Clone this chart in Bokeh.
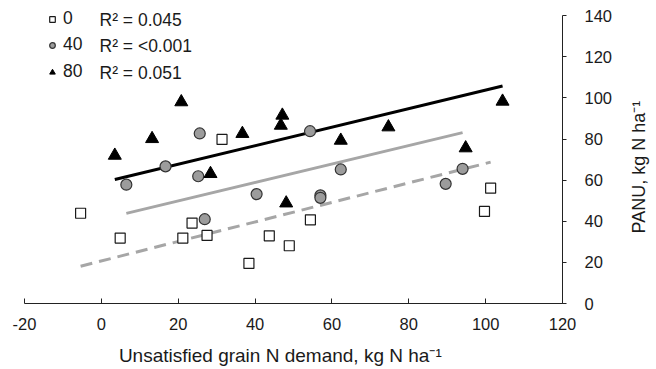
import numpy as np
from bokeh.plotting import figure
from bokeh.models import Range1d, FixedTicker, Legend, LegendItem, Label
from bokeh.embed import file_html
from bokeh.resources import INLINE

# ---- data ----
x_n0 = [-5.4, 4.9, 21.2, 23.6, 27.5, 31.4, 38.4, 43.7, 48.9, 54.4, 101.3, 99.7]
y_n0 = [43.9, 31.8, 31.8, 39.1, 33.1, 79.8, 19.5, 32.9, 28.1, 40.7, 56.1, 44.8]
x_n40 = [6.5, 16.7, 25.6, 25.2, 26.9, 40.4, 54.3, 57.0, 57.0, 62.3, 89.6, 94.0]
y_n40 = [57.8, 66.7, 82.7, 61.9, 41.0, 53.2, 83.8, 52.6, 51.4, 65.2, 58.2, 65.5]
x_n80 = [3.5, 13.2, 20.8, 28.4, 36.7, 47.1, 46.7, 48.1, 62.3, 74.7, 94.8, 104.4]
y_n80 = [72.0, 80.1, 98.0, 63.1, 82.6, 91.5, 86.6, 48.8, 79.3, 85.8, 75.6, 98.3]

series_names = ["0", "40", "80"]
fit_slope = [0.4745, 0.449, 0.451]
fit_intercept = [20.7, 40.9, 58.7]
r2_labels = ["R\u00b2 = 0.045", "R\u00b2 = <0.001", "R\u00b2 = 0.051"]

x_ticks = [-20, 0, 20, 40, 60, 80, 100, 120]
y_ticks = [0, 20, 40, 60, 80, 100, 120, 140]
x_title = "Unsatisfied grain N demand, kg N ha\u207b\u00b9"
y_title = "PANU, kg N ha\u207b\u00b9"

FONT = "Liberation Sans"
TXT = "#1a1a1a"
NBSP = "\u00a0"

p = figure(frame_width=538, frame_height=294, min_border_left=24, min_border_top=9,
           min_border_right=94, min_border_bottom=66,
           x_range=Range1d(-20, 120), y_range=Range1d(0, 143),
           y_axis_location="right", output_backend="svg", toolbar_location=None,
           background_fill_color="white", border_fill_color="white")
p.outline_line_color = None
p.grid.visible = False

# trend lines
xs_all = [x_n0, x_n40, x_n80]
line_styles = [dict(line_color="#a6a6a6", line_dash="12 7"),
               dict(line_color="#a6a6a6"),
               dict(line_color="#000000")]
for xs, m, b, st in zip(xs_all, fit_slope, fit_intercept, line_styles):
    lx = np.array([min(xs), max(xs)])
    p.line(lx, m * lx + b, line_width=3, **st)

r0 = p.scatter(x_n0, y_n0, marker="square", size=10, fill_color="white",
               line_color="#1a1a1a", line_width=1.2)
r40 = p.scatter(x_n40, y_n40, marker="circle", size=11, fill_color="#9c9c9c",
                line_color="#333333", line_width=1.2)
r80 = p.scatter(x_n80, y_n80, marker="triangle", size=13, fill_color="black",
                line_color="black", line_width=1)

# axes
xa = p.xaxis[0]
xa.ticker = FixedTicker(ticks=x_ticks)
xa.major_label_overrides = {t: str(t) for t in x_ticks}
xa.major_tick_in = 5
xa.major_tick_out = 0
xa.minor_tick_line_color = None
xa.axis_line_color = "#222222"
xa.major_tick_line_color = "#222222"
xa.major_label_text_font = FONT
xa.major_label_text_font_size = "16.5px"
xa.major_label_text_color = TXT
xa.major_label_standoff = 14
xa.axis_label = x_title + NBSP * 5
xa.axis_label_standoff = 12
xa.axis_label_text_font = FONT
xa.axis_label_text_font_size = "19px"
xa.axis_label_text_font_style = "normal"
xa.axis_label_text_color = TXT

ya = p.yaxis[0]
ya.ticker = FixedTicker(ticks=y_ticks)
ya.bounds = (0, 140)
ya.major_tick_in = 0
ya.major_tick_out = 4
ya.minor_tick_line_color = None
ya.axis_line_color = "#222222"
ya.major_tick_line_color = "#222222"
ya.major_label_text_font = FONT
ya.major_label_text_font_size = "16.5px"
ya.major_label_text_color = TXT
ya.major_label_standoff = 18
ya.axis_label_orientation = np.pi / 2
if "axis_label_align" in ya.properties():
    ya.axis_label_align = "start"
    ya.axis_label = NBSP * 14 + y_title
else:
    ya.axis_label = y_title
ya.axis_label_standoff = 24
ya.axis_label_text_font = FONT
ya.axis_label_text_font_size = "18px"
ya.axis_label_text_font_style = "normal"
ya.axis_label_text_color = TXT

# legend: one row per series
row_y = [274, 248, 221]
for name, r, ry, r2 in zip(series_names, [r0, r40, r80], row_y, r2_labels):
    lg = Legend(items=[LegendItem(label=name, renderers=[r])], location=(21, ry),
                padding=0, margin=0, spacing=0, glyph_width=14, glyph_height=20,
                label_height=20, label_standoff=4, border_line_color=None,
                background_fill_alpha=0, label_text_font=FONT,
                label_text_font_size="17.5px", label_text_color=TXT)
    p.add_layout(lg)
    p.add_layout(Label(x=75, y=ry + 10, x_units="screen", y_units="screen",
                       text=r2, text_baseline="middle", text_align="left",
                       text_font=FONT, text_font_size="17.5px", text_color=TXT))

open("out.html", "w").write(file_html(p, INLINE))
